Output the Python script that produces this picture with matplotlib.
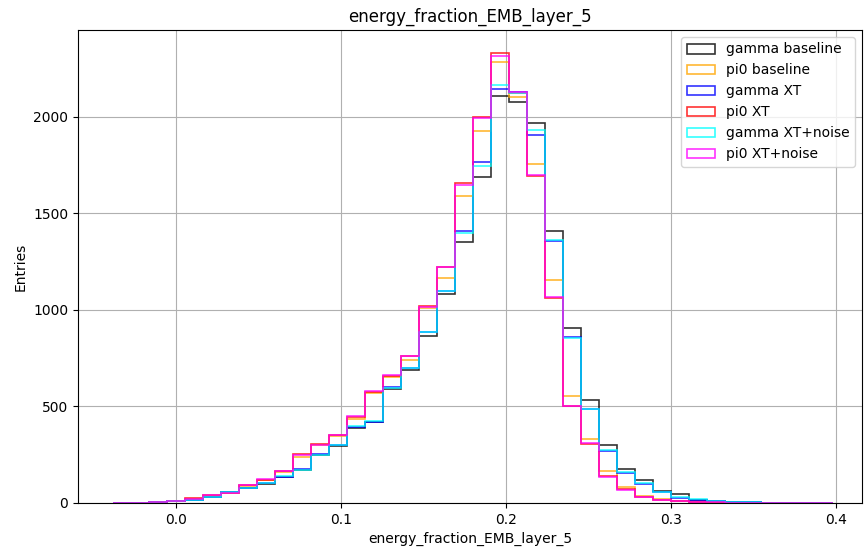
import numpy as np
import matplotlib
matplotlib.use("Agg")
import matplotlib.pyplot as plt

bin_lo = -0.038
bin_width = 0.0109
n_bins = 40

labels = ["gamma baseline", "pi0 baseline", "gamma XT", "pi0 XT",
          "gamma XT+noise", "pi0 XT+noise"]
colors = ["black", "orange", "blue", "red", "cyan", "magenta"]

gamma_baseline = [1, 2, 4, 10, 14, 30, 55, 80, 100, 135, 172, 250, 296, 390, 418, 590,
                  689, 867, 1083, 1354, 1691, 2108, 2080, 1967, 1408, 905, 534, 300,
                  178, 119, 62, 45, 18, 10, 6, 3, 2, 1, 1, 0]
pi0_baseline = [1, 2, 4, 8, 22, 38, 52, 90, 118, 160, 237, 302, 345, 434, 570, 655,
                741, 1008, 1167, 1591, 1929, 2286, 2105, 1755, 1156, 556, 333, 167,
                83, 36, 22, 12, 6, 3, 2, 1, 1, 0, 0, 0]
gamma_xt = [1, 2, 4, 11, 14, 32, 55, 78, 102, 136, 175, 254, 298, 395, 420, 600,
            700, 885, 1100, 1409, 1765, 2146, 2128, 1906, 1360, 858, 485, 272,
            157, 100, 59, 28, 17, 9, 5, 3, 2, 1, 0, 0]
pi0_xt = [1, 2, 4, 8, 24, 41, 52, 92, 120, 165, 252, 306, 350, 448, 575, 660,
          760, 1021, 1224, 1656, 2000, 2334, 2125, 1696, 1060, 500, 305, 138,
          70, 32, 16, 9, 5, 3, 2, 1, 1, 1, 0, 1]
gamma_xt_noise = [2, 2, 4, 11, 14, 33, 55, 78, 105, 138, 173, 248, 300, 401, 425, 598,
                  698, 884, 1100, 1397, 1748, 2165, 2125, 1933, 1363, 855, 487, 275,
                  159, 104, 58, 30, 19, 9, 6, 3, 2, 1, 1, 1]
pi0_xt_noise = [1, 2, 4, 9, 23, 40, 52, 93, 123, 167, 249, 300, 351, 451, 580, 663,
                762, 1017, 1221, 1649, 1995, 2317, 2131, 1700, 1068, 504, 309, 136,
                67, 30, 15, 9, 5, 3, 2, 1, 1, 0, 1, 1]

series = [gamma_baseline, pi0_baseline, gamma_xt, pi0_xt, gamma_xt_noise, pi0_xt_noise]

edges = bin_lo + bin_width * np.arange(n_bins + 1)
centers = 0.5 * (edges[:-1] + edges[1:])

fig = plt.figure(figsize=(8.64, 5.48), dpi=100)
ax = fig.add_axes([78/864, 45/548, (862-78)/864, (503-30)/548])

for vals, lab, col in zip(series, labels, colors):
    ax.hist(centers, bins=edges, weights=vals, histtype="step", color=col,
            label=lab, linewidth=1.2, alpha=0.8)

ax.set_xlim(-0.0594, 0.4158)
ax.set_xticks([0.0, 0.1, 0.2, 0.3, 0.4])
ax.set_yticks([0, 500, 1000, 1500, 2000])
ax.grid(True, color="#b0b0b0", linewidth=0.8)
ax.set_axisbelow(True)
ax.set_title("energy_fraction_EMB_layer_5", fontsize=12)
ax.set_xlabel("energy_fraction_EMB_layer_5", fontsize=10)
ax.set_ylabel("Entries", fontsize=10)
ax.legend(loc="upper right", fontsize=10)

fig.savefig("out.png", dpi=100)
